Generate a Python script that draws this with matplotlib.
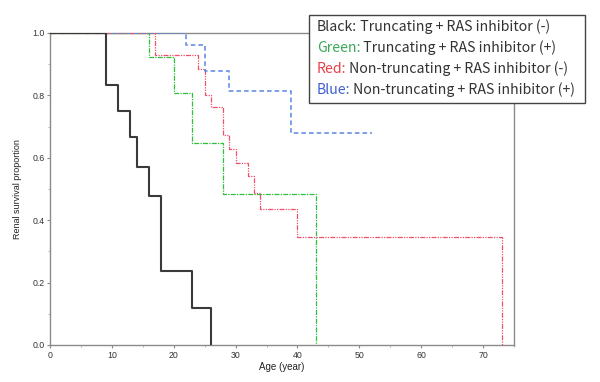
import matplotlib.pyplot as plt
from matplotlib.patches import Rectangle
from matplotlib.text import Annotation

# Kaplan-Meier step curves
black_t = [0, 9, 11, 13, 14, 16, 18, 23, 26]
black_s = [1.0, 0.833, 0.75, 0.667, 0.571, 0.476, 0.238, 0.119, 0.0]

green_t = [0, 16, 20, 23, 28, 43]
green_s = [1.0, 0.923, 0.808, 0.646, 0.485, 0.0]

red_t = [0, 17, 24, 25, 26, 28, 29, 30, 32, 33, 34, 40, 73]
red_s = [1.0, 0.929, 0.886, 0.80, 0.763, 0.673, 0.628, 0.583, 0.542, 0.487, 0.436, 0.346, 0.0]

blue_t = [0, 22, 25, 29, 39, 52]
blue_s = [1.0, 0.962, 0.878, 0.815, 0.68, 0.68]

legend_rows = [
    ("Black:", "#333333", " Truncating + RAS inhibitor (-)"),
    ("Green:", "#3aa85a", " Truncating + RAS inhibitor (+)"),
    ("Red:", "#e8404a", " Non-truncating + RAS inhibitor (-)"),
    ("Blue:", "#3f5fd0", " Non-truncating + RAS inhibitor (+)"),
]

fig = plt.figure(figsize=(6, 3.82), dpi=100)
ax = fig.add_axes([50 / 600, 1 - 345 / 382, 464 / 600, 312 / 382])

ax.step(black_t, black_s, where="post", color="#3a3a3a", lw=1.5, zorder=4)
ax.step(green_t, green_s, where="post", color="#2fbf3a", lw=0.9, ls=(0, (4, 1, 1, 1)), zorder=3)
ax.step(red_t, red_s, where="post", color="#f0506a", lw=0.9, ls=(0, (4, 1, 1, 1, 1, 1)), zorder=3)
ax.step(blue_t, blue_s, where="post", color="#5a86e6", lw=1.1, ls=(0, (3, 2)), zorder=3)

ax.set_xlim(0, 75)
ax.set_ylim(0, 1.0)
ax.set_xticks(range(0, 71, 10))
ax.set_xticks(range(5, 76, 10), minor=True)
ax.set_yticks([0.0, 0.2, 0.4, 0.6, 0.8, 1.0])
ax.set_yticklabels(["0.0", "0.2", "0.4", "0.6", "0.8", "1.0"])
ax.set_yticks([0.1, 0.3, 0.5, 0.7, 0.9], minor=True)
for s in ax.spines.values():
    s.set_color("#8a8a8a")
    s.set_linewidth(1.0)
ax.tick_params(which="major", length=2.5, width=0.8, color="#8a8a8a",
               labelsize=6.3, labelcolor="#333333", pad=1.5)
ax.tick_params(which="minor", length=1.5, width=0.6, color="#aaaaaa")
for lab in ax.get_xticklabels() + ax.get_yticklabels():
    lab.set_family("Liberation Sans")

ax.set_xlabel("Age (year)", fontsize=7, family="Liberation Sans", color="#222222", labelpad=2)
ax.set_ylabel("Renal survival proportion", fontsize=6.5, family="Liberation Sans",
              color="#222222", labelpad=7)

# legend box drawn as text in figure coordinates
fig.patches.append(Rectangle((309 / 600, 1 - 103 / 382), 276 / 600, 88 / 382,
                             transform=fig.transFigure, facecolor="white",
                             edgecolor="#444444", lw=1.0, zorder=10))
fam = ["Noto Sans CJK JP", "DejaVu Sans"]
for i, (prefix, col, rest) in enumerate(legend_rows):
    y = 1 - (27 + i * 21) / 382
    t = fig.text(317 / 600, y, prefix, color=col, fontsize=10.2, family=fam,
                 va="center", ha="left", zorder=11)
    fig.add_artist(Annotation(rest, xy=(1, 0.5), xycoords=t, va="center",
                              ha="left", color="#333333", fontsize=10.2,
                              family=fam, zorder=11))

fig.savefig("out.png", dpi=100)
